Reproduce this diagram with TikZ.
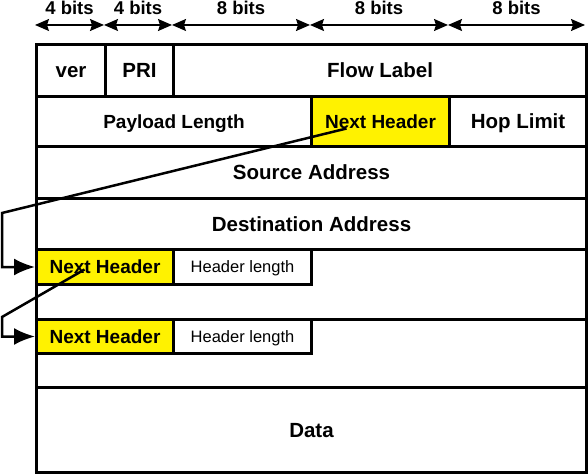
\documentclass[tikz,border=0pt]{standalone}
\usepackage{fontspec}
\setmainfont{Liberation Sans}
\usetikzlibrary{arrows.meta,calc}
\begin{document}
\begin{tikzpicture}[x=1bp,y=-1bp,
  cell/.style={draw, line width=3bp, inner sep=0pt, anchor=north west, text depth=0pt},
  fA/.style={font=\fontsize{20.5bp}{21bp}\selectfont\bfseries, text height=14.7bp},
  fB/.style={font=\fontsize{19bp}{19bp}\selectfont\bfseries, text height=13.6bp},
  fC/.style={font=\fontsize{16.5bp}{17bp}\selectfont, text height=11.8bp},
  fD/.style={font=\fontsize{18.5bp}{19bp}\selectfont\bfseries, text height=13.2bp, text depth=0pt, inner sep=0pt},
  hl/.style={fill=yellow},
  conn/.style={line width=2.5bp, -{Latex[length=21bp,width=17bp]}},
  dim/.style={line width=1.5bp, {Stealth[length=14bp,width=12bp,inset=2bp]}-{Stealth[length=14bp,width=12bp,inset=2bp]}}]
\useasboundingbox (0,0) rectangle (588,474);
% bit-width dimension line
\coordinate (a0) at (35,25);
\coordinate (a1) at (104,25);
\coordinate (a2) at (172,25);
\coordinate (a3) at (310,25);
\coordinate (a4) at (448,25);
\coordinate (a5) at (585,25);
\draw[dim] (a0) -- (a1);
\draw[dim] (a1) -- (a2);
\draw[dim] (a2) -- (a3);
\draw[dim] (a3) -- (a4);
\draw[dim] (a4) -- (a5);
\node[fD] (b1) at (69.5,7.5) {4 bits};
\node[fD] (b2) at (138,7.5) {4 bits};
\node[fD] (b3) at (241,7.5) {8 bits};
\node[fD] (b4) at (379,7.5) {8 bits};
\node[fD] (b5) at (516.5,7.5) {8 bits};
% row 1
\node[cell,fA,minimum width=69bp,minimum height=52bp] (ver) at (35,43) {ver};
\node[cell,fA,minimum width=68bp,minimum height=52bp] (pri) at (104,43) {PRI};
\node[cell,fA,minimum width=413bp,minimum height=52bp] (flow) at (172,43) {Flow Label};
% row 2
\node[cell,fB,minimum width=275bp,minimum height=50bp] (pay) at (35,95) {Payload Length};
\node[cell,fB,hl,minimum width=138bp,minimum height=50bp] (nh0) at (310,95) {Next Header};
\node[cell,fA,minimum width=137bp,minimum height=50bp] (hop) at (448,95) {Hop Limit};
% rows 3-4
\node[cell,fA,minimum width=550bp,minimum height=52bp] (src) at (35,145) {Source Address};
\node[cell,fA,minimum width=550bp,minimum height=51bp] (dst) at (35,197) {Destination Address};
% extension headers
\node[cell,minimum width=550bp,minimum height=70bp] (ext1) at (35,248) {};
\node[cell,minimum width=550bp,minimum height=68bp] (ext2) at (35,318) {};
\node[cell,fB,hl,minimum width=137bp,minimum height=35bp] (nh1) at (35,248) {Next Header};
\node[cell,fC,minimum width=138bp,minimum height=35bp] (hl1) at (172,248) {Header length};
\node[cell,fB,hl,minimum width=137bp,minimum height=34bp] (nh2) at (35,318) {Next Header};
\node[cell,fC,minimum width=138bp,minimum height=34bp] (hl2) at (172,318) {Header length};
% data
\node[cell,fA,minimum width=550bp,minimum height=85bp] (data) at (35,386) {Data};
% connectors
\coordinate (t1) at ($(nh0.center)+(-34,7)$);
\coordinate (k1) at (2,213);
\draw[conn] (t1) -- (k1) |- (nh1.west);
\coordinate (t2) at ($(nh1.center)+(-20.5,2.5)$);
\coordinate (k2) at (2,317);
\draw[conn] (t2) -- (k2) |- (nh2.west);
\end{tikzpicture}
\end{document}
